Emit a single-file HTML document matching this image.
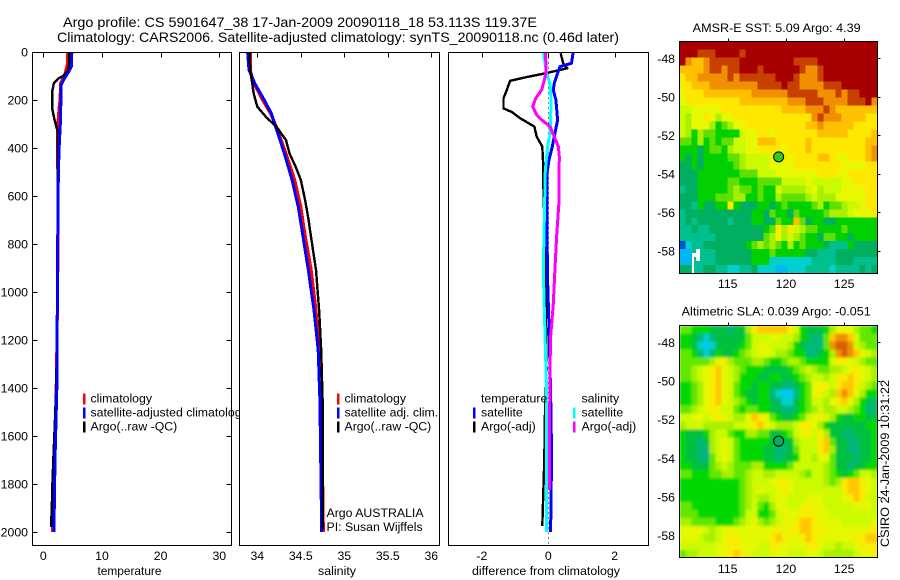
<!DOCTYPE html>
<html>
<head>
<meta charset="utf-8">
<title>Argo profile</title>
<style>
html,body{margin:0;padding:0;background:#fff;}
svg{display:block;}
text{font-family:"Liberation Sans",sans-serif;font-size:12.3px;fill:#000;}
.t{font-size:14px;}
</style>
</head>
<body>
<svg id="chart" xmlns="http://www.w3.org/2000/svg" width="900" height="580" viewBox="0 0 900 580">
<defs>
<filter id="smooth" filterUnits="userSpaceOnUse" x="679" y="325" width="199" height="233">
<feGaussianBlur stdDeviation="1.4" edgeMode="duplicate"/>
</filter>
</defs>
<rect x="0" y="0" width="900" height="580" fill="#fff"/>
<text class="t" x="63" y="27" textLength="474" lengthAdjust="spacingAndGlyphs">Argo profile: CS 5901647_38 17-Jan-2009 20090118_18 53.113S 119.37E</text>
<text class="t" x="57" y="42" textLength="562" lengthAdjust="spacingAndGlyphs">Climatology: CARS2006. Satellite-adjusted climatology: synTS_20090118.nc (0.46d later)</text>
<g id="p1"></g>
<g id="p2"></g>
<g id="p3"></g>
<g id="m1"></g>
<g id="m2"></g>
<text transform="translate(889,547) rotate(-90)" x="0" y="0" textLength="167" lengthAdjust="spacingAndGlyphs">CSIRO 24-Jan-2009 10:31:22</text>
</svg>
<script>
// ---- profile data ----
var depthTicks = [0,200,400,600,800,1000,1200,1400,1600,1800,2000];
var tempTicks = [0,10,20,30];
var salTicks = [34,34.5,35,35.5,36];
var salTickLabels = ['34','34.5','35','35.5','36'];
var diffTicks = [-2,0,2];
var lonTicks = [115,120,125];
var latTicks = [-48,-50,-52,-54,-56,-58];

var tempClimDepth = [0,50,70,100,130,200,230,330,600,1000,1400,1700,2000];
var tempClimValue = [4.15,4.1,3.9,3.6,2.95,2.85,2.7,2.4,2.5,2.45,2.2,1.9,1.55];
var tempSatDepth = [0,60,80,110,140,200,300,400,470,600,1000,1400,1700,2000];
var tempSatValue = [4.85,4.8,4.4,3.6,3.0,3.0,2.9,2.7,2.6,2.5,2.4,2.3,2.0,1.8];
var tempArgoDepth = [0,50,80,100,110,130,160,200,240,270,310,330,450,600,1000,1400,1500,1700,1800,1900,1960,1980];
var tempArgoValue = [4.4,4.4,4.2,3.4,2.6,1.8,1.55,1.5,1.55,1.8,2.2,2.45,2.45,2.45,2.4,2.2,2.05,1.7,1.55,1.45,1.35,1.35];

var salClimDepth = [0,75,130,200,255,311,422,533,644,742,908,1075,1242,1353,1500,2000];
var salClimValue = [33.92,33.92,33.96,34.06,34.15,34.22,34.33,34.43,34.5,34.54,34.62,34.675,34.71,34.73,34.74,34.76];
var salSatDepth = [0,5,75,130,200,255,311,422,533,644,742,908,1075,1242,1353,1450,2000];
var salSatValue = [33.89,33.89,33.905,33.97,34.08,34.16,34.21,34.31,34.40,34.47,34.514,34.586,34.652,34.70,34.71,34.72,34.74];
var salArgoDepth = [0,75,130,175,228,275,311,367,422,478,533,617,700,742,908,1075,1242,1450,1990];
var salArgoValue = [33.91,33.92,33.94,33.96,34.0,34.11,34.22,34.33,34.37,34.44,34.5,34.55,34.59,34.606,34.675,34.71,34.735,34.75,34.75];

var dtArgoDepth = [5,47,68,89,103,120,158,193,235,250,276,311,353,394,478,547,700,1000,1325,1500,1700,1975];
var dtArgoValue = [0.37,0.45,0.57,-0.1,-0.6,-1.15,-1.25,-1.35,-1.35,-1.1,-0.85,-0.42,-0.35,-0.18,-0.15,-0.15,-0.12,-0.08,-0.05,-0.1,-0.12,-0.18];
var dtSatDepth = [0,47,61,89,130,158,200,283,339,394,450,505,908,1050,1187,1420,1680,2000];
var dtSatValue = [0.75,0.7,0.35,0.28,0.18,0.15,0.23,0.28,0.2,0.12,0.02,-0.04,-0.03,0,0.03,0.07,0.1,0.07];
var dsSatDepth = [0,89,130,200,283,339,394,492,700,908,1117,1325,1420,1800,2000];
var dsSatValue = [-0.15,-0.05,0.05,0.08,0.07,0.05,-0.02,-0.09,-0.12,-0.15,-0.11,-0.07,-0.05,-0.05,-0.05];
var dsArgoDepth = [0,89,117,158,193,228,262,283,311,353,394,436,630,770,908,1050,1187,1325,1700,1825];
var dsArgoValue = [-0.08,-0.07,-0.12,-0.2,-0.38,-0.47,-0.35,-0.2,0.05,0.18,0.3,0.33,0.32,0.25,0.2,0.15,0.07,0.05,0.03,0.03];

// ---- map data: one character per cell, index into the colour scale ----
var colourScale = ['#0050d0','#00b8f0','#00d0d0','#00c090','#00b060','#00d000','#60e000','#a8f000','#ccfa00','#e8f800','#ffe800','#ffc000','#f09000','#c84000','#a80000'];
var slaColourScale = ['#00a0f0','#00c8f0','#00d0c8','#00b878','#00c040','#00d800','#60e800','#a8f000','#ccfa00','#e4f800','#f8ec00','#ffc800','#f09000','#d86000','#a80000'];
var sstRows = [
"eeeeeeeeeeeeeeeeeeeeeeeeeeeeeeeee",
"eeedddeeeedeeeeeeeeeeeeeeeeeeeeee",
"ecbbcdddddeeeeeeeeeddddeeeeeeeeee",
"bbbbcddcddeeedeeeeeedccdeeeeeeeee",
"abbcccccdcddddddeeedcccdeeeeeeeee",
"aabbbccccccccddddeddccccdddeeeeee",
"9aaabbbbbbbbccccccdddddcccdcddeee",
"9aaaaaaaaabbbbbbbbcccdddccccdddec",
"8899999aaaaaaaaaabbbbcccdcbbbbbbb",
"8799a9799aaaaaaaaaaaaacdcccbbbbaa",
"87999756799aaaaaaaaaabbcbbbbbaaaa",
"8757665555899aa9aaaaaaabbbbbaaaab",
"6657565668899bbbaaaaabaaaaaaaaabb",
"5554566578899aaaa9aaabaaaaaaaaabc",
"5454555566788889aa9aaaabba99aaabc",
"4454555556788889999aaaaaaaa9999aa",
"44455555556668889999999aaa99aaaaa",
"44455555665556666888898888899aaaa",
"3445555567665655877778978889999aa",
"4445556667755655766667877799999aa",
"44354455a5444554565555675667889aa",
"34444444444455465546555567778999a",
"3434444434445544655b6455445555555",
"3343344444444456a7a87665555655555",
"333333444444446797876554665545555",
"023344444445676765756555433354444",
"113333444444555655555443334444444",
"113333444444555222222233334443333",
"443344332233422211222333323333434"
];
var slaRows = [
"66"+"555"+"444344"+"7"+"abbbbba"+"8"+"54445"+"79997"+"665",
"554323"+"44444"+"6"+"8889988"+"7"+"5433"+"6"+"bccb"+"8666",
"554212"+"44445"+"6"+"8998887"+"5"+"4333"+"6"+"cddc"+"8766",
"665323"+"54456"+"7"+"8998776"+"5"+"5334"+"5"+"7cdc"+"b987",
"66666"+"79a"+"7666"+"77"+"655"+"677"+"655"+"55"+"8aa9"+"8766",
"66789ab9876"+"55544445678"+"7667789a987",
"66789ab9875"+"55445544567"+"8878aaba987",
"55679ab9865"+"54554433456"+"9a98abba876",
"55679ab9865"+"44553211356"+"9a87bcb9755",
"55679ab9876"+"54554322456"+"8879ab97543",
"66789a98865"+"66554433456"+"78778876533",
"889989a9877"+"9ba96544568"+"9a875445544",
"78887777788"+"9ab987778aa"+"97544444455",
"54445788655"+"7766445689a"+"8a744334445",
"54434789865"+"55554444788"+"8ab64433445",
"54433789865"+"55544334688"+"8ab74433445",
"54433689865"+"55544344588"+"79964443445",
"55444678766"+"67755556888"+"88764434455",
"66555667766"+"78877888876"+"88765456887",
"55555555556"+"78889aa9888"+"88767abba98",
"55555555556"+"789889a9888"+"88888abba98",
"55555555556"+"78778998889"+"998889aba88",
"66555555556"+"7865799889a"+"99888889998",
"66655555556"+"885568999aa"+"a9988888888",
"77666655567"+"89767899abb"+"a9999888889",
"99998789999"+"99999a9aabb"+"aa9999999aa",
"99987789aa9"+"9999aba99ab"+"a999999aabb",
"88888899aa9"+"9988aa9999a"+"a9887889aaa",
"67788899aba"+"98889998889"+"9877777899a"
];

// ---- helpers ----
var NS = 'http://www.w3.org/2000/svg';
function mk(tag, attrs, parent, txt){
  var e = document.createElementNS(NS, tag);
  for (var k in attrs) e.setAttribute(k, attrs[k]);
  if (txt !== undefined) e.textContent = txt;
  parent.appendChild(e);
  return e;
}
function linear(d0,d1,r0,r1){ return function(v){ return r0 + (v-d0)*(r1-r0)/(d1-d0); }; }
var yDepth = linear(0,2000,52,532);
var xTemp = linear(0,30,43.3,219.3);
var xSal = linear(34,36,257.3,431.3);
var xDiff = linear(-2,2,481.9,614.7);
var xLon = linear(115,125,727.7,844.2);
var yLat1 = linear(-48,-58,58.3,251);
var yLat2 = linear(-48,-58,342.3,535.7);

function panelBox(g, x0, x1){
  var r = mk('rect',{x:x0,y:52.5,width:x1-x0,height:493,fill:'#fff',stroke:'none'},g);
  
  
}
function panelFrame(g, x0, x1){
  var r = mk('rect',{x:x0,y:52.5,width:x1-x0,height:493,fill:'none',stroke:'#000','stroke-width':1,'shape-rendering':'crispEdges'},g);
  
  
}
function series(g, depths, values, xf, colour, w, name){
  var pts = depths.map(function(d,i){ return xf(values[i]).toFixed(1)+','+yDepth(d).toFixed(1); }).join(' ');
  var p = mk('polyline',{points:pts,fill:'none',stroke:colour,'stroke-width':w,'stroke-linejoin':'round','shape-rendering':'crispEdges'},g);
  
  
}
function xAxis(g, ticks, labels, xf, title, titleX, titleLen){
  ticks.forEach(function(t,i){
    var x = Math.round(xf(t))+0.5;
    var l = mk('line',{x1:x,x2:x,y1:52.5,y2:57.5,stroke:'#000','stroke-width':1,'shape-rendering':'crispEdges'},g);
    
    
    var tx = mk('text',{x:xf(t),y:560,'text-anchor':'middle'},g,labels[i]);
    
    
  });
  var at = mk('text',{x:titleX,y:575,'text-anchor':'middle',textLength:titleLen,lengthAdjust:'spacingAndGlyphs'},g,title);
  
  
}
function legendEntry(g, sx, tx, y, colour, label){
  if (colour){
    var s = mk('rect',{x:sx,y:y-9,width:2.5,height:11,fill:colour,'shape-rendering':'crispEdges'},g);
    
    
  }
  var t = mk('text',{x:tx,y:y},g,label);
  
  
}
function drawMap(g, rows, scale, yLat, top, bottom, title, titleX, titleLen, titleY, labelY, markerFill, smooth){
  var left = 679.5, right = 877.5;
  var lonL = 115 + (left-727.7)*10/116.5, lonR = 115 + (right-727.7)*10/116.5;
  var latT = -48 + (yLat(-48)-top)/19.3, latB = -48 - (bottom-yLat(-48))/19.3;
  var cells = mk('g',{},g);
  
  
  if (smooth) cells.setAttribute('filter','url(#smooth)');
  rows.forEach(function(row,r){
    var n = row.length;
    var y0 = yLat(latT + (latB-latT)*r/rows.length);
    var y1 = yLat(latT + (latB-latT)*(r+1)/rows.length);
    for (var c=0;c<n;c++){
      var x0 = xLon(lonL + (lonR-lonL)*c/n);
      var x1 = xLon(lonL + (lonR-lonL)*(c+1)/n);
      var v = parseInt(row.charAt(c),16);
      var cell = mk('rect',{x:x0.toFixed(2),y:y0.toFixed(2),width:(x1-x0+0.4).toFixed(2),height:(y1-y0+0.4).toFixed(2),fill:scale[v],'shape-rendering':'crispEdges'},cells);
      
      
    }
  });
  var fr = mk('rect',{x:left,y:top,width:right-left,height:bottom-top,fill:'none',stroke:'#000','stroke-width':1,'shape-rendering':'crispEdges'},g);
  
  
  lonTicks.forEach(function(t){
    var x = Math.round(xLon(t))+0.5;
    var l = mk('line',{x1:x,x2:x,y1:top-3,y2:top,stroke:'#000','shape-rendering':'crispEdges'},g);
    
    
    var tx = mk('text',{x:xLon(t),y:labelY,'text-anchor':'middle'},g,String(t));
    
    
  });
  latTicks.forEach(function(t){
    var y = Math.round(yLat(t))+0.5;
    var l = mk('line',{x1:right,x2:right+3,y1:y,y2:y,stroke:'#000','shape-rendering':'crispEdges'},g);
    
    
    var tx = mk('text',{x:675,y:yLat(t)+4.5,'text-anchor':'end'},g,String(t));
    
    
  });
  var ti = mk('text',{x:titleX,y:titleY,textLength:titleLen,lengthAdjust:'spacingAndGlyphs'},g,title);
  
  
  var m = mk('circle',{cx:xLon(119.37),cy:yLat(-53.113),r:5,fill:markerFill,stroke:'#000','stroke-width':1},g);
  
  
}

// ---- temperature panel ----
var p1 = document.getElementById('p1');
panelBox(p1,32.5,231.5);
series(p1,tempClimDepth,tempClimValue,xTemp,'#ff0000',3,'temperature-climatology-line');
series(p1,tempArgoDepth,tempArgoValue,xTemp,'#000000',2.4,'temperature-argo-line');
series(p1,tempSatDepth,tempSatValue,xTemp,'#0000ff',3,'temperature-satellite-line');
panelFrame(p1,32.5,231.5);
xAxis(p1,tempTicks,tempTicks.map(String),xTemp,'temperature',129.5,64);
depthTicks.forEach(function(d){
  var y = Math.round(yDepth(d))+0.5;
  var a = mk('line',{x1:32.5,x2:37.5,y1:y,y2:y,stroke:'#000','shape-rendering':'crispEdges'},p1);
  
  
  var b = mk('line',{x1:226.5,x2:231.5,y1:y,y2:y,stroke:'#000','shape-rendering':'crispEdges'},p1);
  
  
  var t = mk('text',{x:28,y:yDepth(d)+4.5,'text-anchor':'end'},p1,String(d));
  
  
});
legendEntry(p1,83,90.5,402.5,'#ff0000','climatology');
legendEntry(p1,83,90.5,416.5,'#0000ff','satellite-adjusted climatology');
legendEntry(p1,83,90.5,430.5,'#000000','Argo(..raw -QC)');

// ---- salinity panel ----
var p2 = document.getElementById('p2');
panelBox(p2,239.5,439.5);
series(p2,salClimDepth,salClimValue,xSal,'#ff0000',3,'salinity-climatology-line');
series(p2,salSatDepth,salSatValue,xSal,'#0000ff',3,'salinity-satellite-line');
series(p2,salArgoDepth,salArgoValue,xSal,'#000000',2.4,'salinity-argo-line');
panelFrame(p2,239.5,439.5);
xAxis(p2,salTicks,salTickLabels,xSal,'salinity',337,38);
legendEntry(p2,337,344.5,402.5,'#ff0000','climatology');
legendEntry(p2,337,344.5,416.5,'#0000ff','satellite adj. clim.');
legendEntry(p2,337,344.5,430.5,'#000000','Argo(..raw -QC)');
legendEntry(p2,0,326.5,517,null,'Argo AUSTRALIA');
legendEntry(p2,0,326.5,531,null,'PI: Susan Wijffels');

// ---- difference panel ----
var p3 = document.getElementById('p3');
panelBox(p3,448.5,648.5);
var zero = mk('line',{x1:xDiff(0),x2:xDiff(0),y1:52.5,y2:545,stroke:'#000','stroke-width':1,'stroke-dasharray':'1 4','shape-rendering':'crispEdges'},p3);


series(p3,dtArgoDepth,dtArgoValue,xDiff,'#000000',2.4,'temperature-difference-argo-line');
series(p3,dtSatDepth,dtSatValue,xDiff,'#0000ff',3,'temperature-difference-satellite-line');
series(p3,dsSatDepth,dsSatValue,xDiff,'#00ffff',3,'salinity-difference-satellite-line');
series(p3,dsArgoDepth,dsArgoValue,xDiff,'#ff00ff',3,'salinity-difference-argo-line');
panelFrame(p3,448.5,648.5);
xAxis(p3,diffTicks,diffTicks.map(String),xDiff,'difference from climatology',546,148);
legendEntry(p3,0,481,402.5,null,'temperature');
legendEntry(p3,473,481,416.5,'#0000ff','satellite');
legendEntry(p3,473,481,430.5,'#000000','Argo(-adj)');
legendEntry(p3,0,581.5,402.5,null,'salinity');
legendEntry(p3,573,581.5,416.5,'#00ffff','satellite');
legendEntry(p3,573,581.5,430.5,'#ff00ff','Argo(-adj)');

// ---- maps ----
var m1 = document.getElementById('m1');
drawMap(m1,sstRows,colourScale,yLat1,41.5,273.5,'AMSR-E SST: 5.09 Argo: 4.39',692.7,168,32,288,'#30d010',false);
var gapA = mk('rect',{x:696,y:249,width:4,height:12,fill:'#fff','shape-rendering':'crispEdges'},m1);


var gapB = mk('rect',{x:692,y:253,width:8,height:4,fill:'#fff','shape-rendering':'crispEdges'},m1);


var gapC = mk('rect',{x:692,y:257,width:2,height:16,fill:'#fff','shape-rendering':'crispEdges'},m1);


var m2 = document.getElementById('m2');
drawMap(m2,slaRows,slaColourScale,yLat2,325.5,557.5,'Altimetric SLA: 0.039 Argo: -0.051',681.7,189,315.5,573,'#00b060',true);
</script>
</body>
</html>
